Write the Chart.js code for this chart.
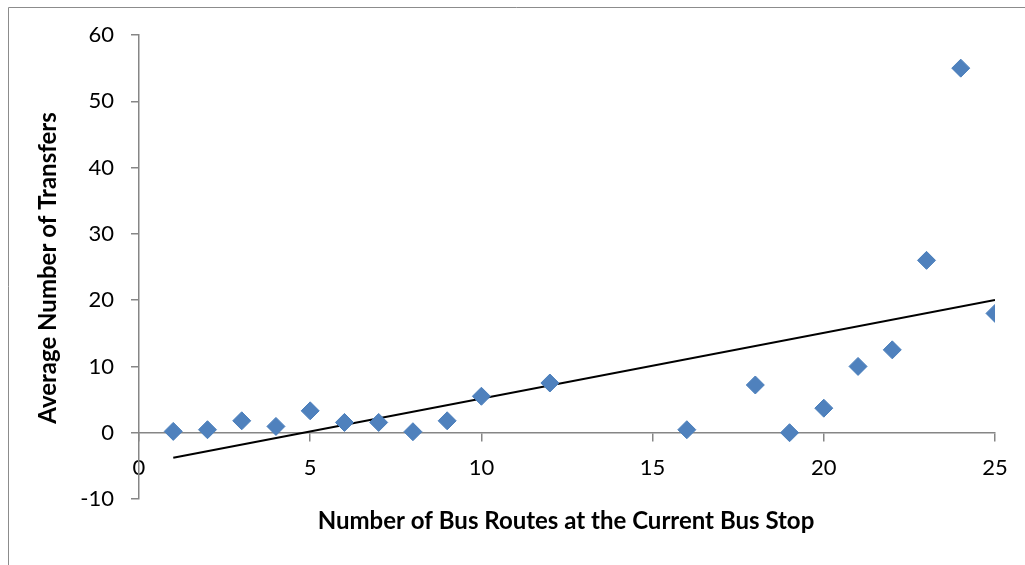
<!DOCTYPE html>
<html>
<head>
<meta charset="utf-8">
<script src="https://cdn.jsdelivr.net/npm/chart.js@4/dist/chart.umd.min.js"></script>
<style>
  html, body { margin: 0; padding: 0; background: #ffffff; }
  #wrap { position: absolute; left: 0; top: 0; width: 1025px; height: 565px; }
</style>
</head>
<body>
<div id="wrap"><canvas id="chart" width="1025" height="565"></canvas></div>
<script>
// Number of bus routes serving a stop, and the average transfers observed there
const routes    = [1, 2, 3, 4, 5, 6, 7, 8, 9, 10, 12, 16, 18, 19, 20, 21, 22, 23, 24, 25];
const transfers = [0.2, 0.45, 1.8, 0.95, 3.3, 1.55, 1.55, 0.15, 1.8, 5.5, 7.5, 0.45, 7.2, 0.0, 3.7, 10.0, 12.5, 26.0, 55.0, 18.0];

// Axis tick values
const xTicks = [0, 5, 10, 15, 20, 25];
const yTicks = [-10, 0, 10, 20, 30, 40, 50, 60];

// Titles
const xTitle = 'Number of Bus Routes at the Current Bus Stop';
const yTitle = 'Average Number of Transfers';

// Least-squares linear trend through the observations
function linearFit(xs, ys) {
  const n = xs.length;
  const mx = xs.reduce((a, b) => a + b, 0) / n;
  const my = ys.reduce((a, b) => a + b, 0) / n;
  let sxy = 0, sxx = 0;
  for (let i = 0; i < n; i++) {
    sxy += (xs[i] - mx) * (ys[i] - my);
    sxx += (xs[i] - mx) * (xs[i] - mx);
  }
  const slope = sxy / sxx;
  return { slope, intercept: my - slope * mx };
}
const fit = linearFit(routes, transfers);
const xMin = Math.min(...routes), xMax = Math.max(...routes);
const trend = [xMin, xMax].map(x => ({ x, y: fit.intercept + fit.slope * x }));

const AXIS_GREY = '#868686';
const FONT = 'Lato, "Open Sans", sans-serif';

// Outer frame and axis titles
const decorations = {
  id: 'decorations',
  beforeDraw(chart) {
    const ctx = chart.ctx;
    ctx.save();
    ctx.strokeStyle = '#8c8c8c';
    ctx.lineWidth = 1;
    ctx.beginPath();
    ctx.moveTo(8.5, chart.height);
    ctx.lineTo(8.5, 7.5);
    ctx.lineTo(chart.width, 7.5);
    ctx.stroke();
    ctx.restore();
  },
  afterDraw(chart) {
    const ctx = chart.ctx;
    const a = chart.chartArea;
    ctx.save();
    ctx.fillStyle = '#000000';
    ctx.font = 'bold 24px ' + FONT;
    ctx.textAlign = 'center';
    ctx.textBaseline = 'middle';
    ctx.fillText(xTitle, (a.left + a.right) / 2 - 1, a.bottom + 22);
    ctx.translate(48, (a.top + a.bottom) / 2 + 1);
    ctx.rotate(-Math.PI / 2);
    ctx.fillText(yTitle, 0, 0);
    ctx.restore();
  }
};

new Chart(document.getElementById('chart'), {
  type: 'scatter',
  data: {
    datasets: [
      {
        label: 'Average transfers',
        data: routes.map((r, i) => ({ x: r, y: transfers[i] })),
        pointStyle: 'rectRot',
        pointRadius: 9,
        pointHoverRadius: 9,
        backgroundColor: '#4F81BD',
        borderColor: '#4A7EBB',
        borderWidth: 1,
        order: 1
      },
      {
        label: 'Linear trend',
        type: 'line',
        data: trend,
        showLine: true,
        borderColor: '#000000',
        borderWidth: 2,
        pointRadius: 0,
        fill: false,
        order: 2
      }
    ]
  },
  options: {
    responsive: false,
    animation: false,
    devicePixelRatio: 1,
    layout: { padding: { left: 0, top: 35, right: 30, bottom: 66 } },
    plugins: {
      legend: { display: false },
      tooltip: { enabled: false }
    },
    scales: {
      x: {
        type: 'linear',
        position: { y: 0 },
        min: xTicks[0],
        max: xTicks[xTicks.length - 1],
        afterBuildTicks: s => { s.ticks = xTicks.map(v => ({ value: v })); },
        grid: { drawOnChartArea: false, drawTicks: true, tickLength: 8, color: AXIS_GREY, lineWidth: 1.5 },
        border: { display: true, color: AXIS_GREY, width: 1.5 },
        ticks: { color: '#000000', font: { family: FONT, size: 22 }, padding: 14, maxRotation: 0 }
      },
      y: {
        type: 'linear',
        position: 'left',
        min: yTicks[0],
        max: yTicks[yTicks.length - 1],
        afterBuildTicks: s => { s.ticks = yTicks.map(v => ({ value: v })); },
        afterFit: s => { s.width = 139; },
        grid: { drawOnChartArea: false, drawTicks: true, tickLength: 8, color: AXIS_GREY, lineWidth: 1.5 },
        border: { display: true, color: AXIS_GREY, width: 1.5 },
        ticks: { color: '#000000', font: { family: FONT, size: 22 }, padding: 17 }
      }
    }
  },
  plugins: [decorations]
});
</script>
</body>
</html>
